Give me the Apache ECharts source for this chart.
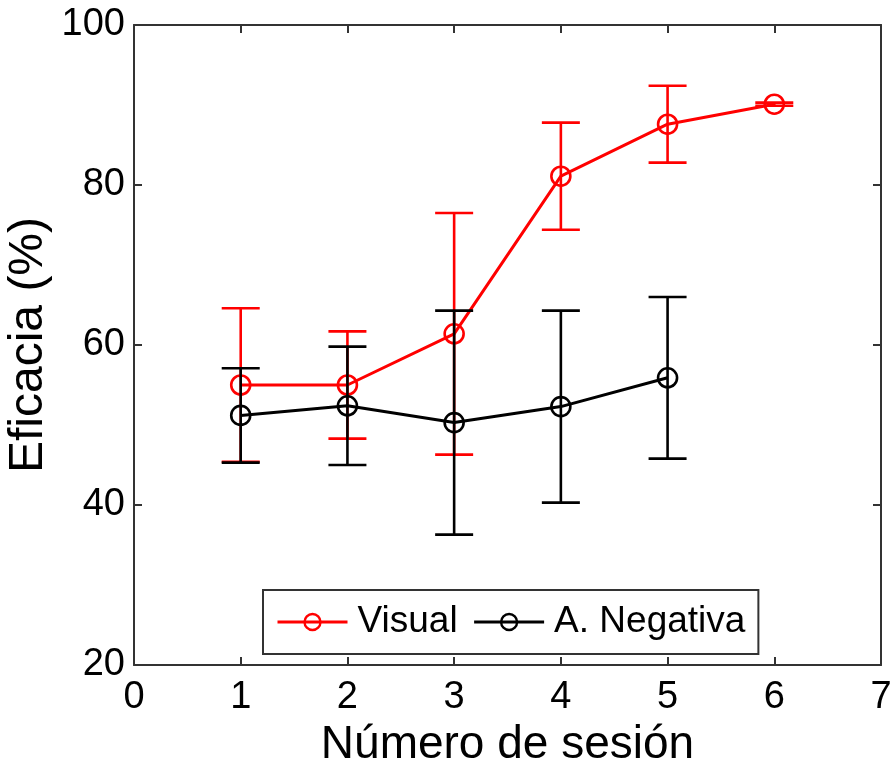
<!DOCTYPE html>
<html>
<head>
<meta charset="utf-8">
<script src="https://cdn.jsdelivr.net/npm/echarts@6/dist/echarts.min.js"></script>
<style>
  html, body { margin: 0; padding: 0; background: #ffffff; }
  #chart { width: 894px; height: 770px; }
</style>
</head>
<body>
<div id="chart"></div>
<script>
// Session numbers and efficacy (%) per group, with symmetric error half-widths
var sessions = [1, 2, 3, 4, 5, 6];
var visualMean = [55.0, 55.0, 61.4, 81.1, 87.6, 90.1];
var visualErr  = [9.6, 6.7, 15.1, 6.7, 4.8, 0.2];
var negSessions = [1, 2, 3, 4, 5];
var negMean = [51.2, 52.4, 50.3, 52.3, 55.9];
var negErr  = [5.9, 7.4, 14.0, 12.0, 10.1];

var xTicks = [0, 1, 2, 3, 4, 5, 6, 7];
var yTicks = [20, 40, 60, 80, 100];

var font = '"Liberation Sans", Arial, Helvetica, sans-serif';
var axisColor = '#333333';

function pairs(xs, ys) {
  return xs.map(function (x, i) { return [x, ys[i]]; });
}
function errRows(xs, means, errs) {
  return xs.map(function (x, i) { return [x, means[i] - errs[i], means[i] + errs[i]]; });
}

// Vertical error bar with horizontal caps at both ends
function errorBarRenderer(color) {
  return function (params, api) {
    var x = api.value(0);
    var lo = api.coord([x, api.value(1)]);
    var hi = api.coord([x, api.value(2)]);
    var half = 19;
    var style = { stroke: color, lineWidth: 2.6 };
    return {
      type: 'group',
      children: [
        { type: 'line', shape: { x1: lo[0], y1: lo[1], x2: hi[0], y2: hi[1] }, style: style },
        { type: 'line', shape: { x1: hi[0] - half, y1: hi[1], x2: hi[0] + half, y2: hi[1] }, style: style },
        { type: 'line', shape: { x1: lo[0] - half, y1: lo[1], x2: lo[0] + half, y2: lo[1] }, style: style }
      ]
    };
  };
}

var chart = echarts.init(document.getElementById('chart'), null, { renderer: 'canvas' });

var tickStyle = { show: true, inside: true, length: 8, lineStyle: { color: axisColor, width: 2 } };
var lineStyleAxis = { show: true, onZero: false, lineStyle: { color: axisColor, width: 2 } };

chart.setOption({
  backgroundColor: '#ffffff',
  animation: false,
  grid: { left: 134, right: 13, top: 25, bottom: 105, containLabel: false, outerBoundsMode: 'none' },
  legend: {
    left: 263,
    top: 590,
    orient: 'horizontal',
    padding: [12, 13, 12, 13],
    itemWidth: 70,
    itemHeight: 20,
    itemGap: 15,
    borderColor: axisColor,
    borderWidth: 2,
    backgroundColor: '#ffffff',
    data: ['Visual', 'A. Negativa'],
    lineStyle: { width: 3 },
    itemStyle: { borderWidth: 2.4 },
    textStyle: { color: '#000000', fontSize: 37, fontFamily: font, lineHeight: 40, padding: [0, 0, 0, 5] }
  },
  xAxis: [
    {
      type: 'value', position: 'bottom', min: xTicks[0], max: xTicks[xTicks.length - 1], interval: 1,
      name: 'Número de sesión', nameLocation: 'middle', nameGap: 49,
      nameTextStyle: { color: '#000000', fontSize: 46, fontFamily: font },
      axisLine: lineStyleAxis, axisTick: tickStyle,
      axisLabel: { color: '#000000', fontSize: 38, fontFamily: font, margin: 14 },
      splitLine: { show: false }
    },
    {
      type: 'value', position: 'top', min: xTicks[0], max: xTicks[xTicks.length - 1], interval: 1,
      axisLine: lineStyleAxis, axisTick: tickStyle, axisLabel: { show: false }, splitLine: { show: false }
    }
  ],
  yAxis: [
    {
      type: 'value', position: 'left', min: yTicks[0], max: yTicks[yTicks.length - 1], interval: 20,
      name: 'Eficacia (%)', nameLocation: 'middle', nameGap: 81, nameMoveOverlap: false,
      nameTextStyle: { color: '#000000', fontSize: 48, fontFamily: font },
      axisLine: lineStyleAxis, axisTick: tickStyle,
      axisLabel: { color: '#000000', fontSize: 38, fontFamily: font, margin: 9 },
      splitLine: { show: false }
    },
    {
      type: 'value', position: 'right', min: yTicks[0], max: yTicks[yTicks.length - 1], interval: 20,
      axisLine: lineStyleAxis, axisTick: tickStyle, axisLabel: { show: false }, splitLine: { show: false }
    }
  ],
  series: [
    {
      name: 'Visual (error)', type: 'custom', xAxisIndex: 0, yAxisIndex: 0, z: 2,
      renderItem: errorBarRenderer('#ff0000'),
      encode: { x: 0, y: [1, 2] },
      data: errRows(sessions, visualMean, visualErr),
      silent: true
    },
    {
      name: 'Visual', type: 'line', xAxisIndex: 0, yAxisIndex: 0, z: 3,
      data: pairs(sessions, visualMean),
      symbol: 'circle', symbolSize: 19,
      color: '#ff0000',
      lineStyle: { color: '#ff0000', width: 3 },
      itemStyle: { color: 'rgba(0,0,0,0)', borderColor: '#ff0000', borderWidth: 2.6 }
    },
    {
      name: 'A. Negativa (error)', type: 'custom', xAxisIndex: 0, yAxisIndex: 0, z: 4,
      renderItem: errorBarRenderer('#000000'),
      encode: { x: 0, y: [1, 2] },
      data: errRows(negSessions, negMean, negErr),
      silent: true
    },
    {
      name: 'A. Negativa', type: 'line', xAxisIndex: 0, yAxisIndex: 0, z: 5,
      data: pairs(negSessions, negMean),
      symbol: 'circle', symbolSize: 19,
      color: '#000000',
      lineStyle: { color: '#000000', width: 3 },
      itemStyle: { color: 'rgba(0,0,0,0)', borderColor: '#000000', borderWidth: 2.6 }
    }
  ]
});
</script>
</body>
</html>
